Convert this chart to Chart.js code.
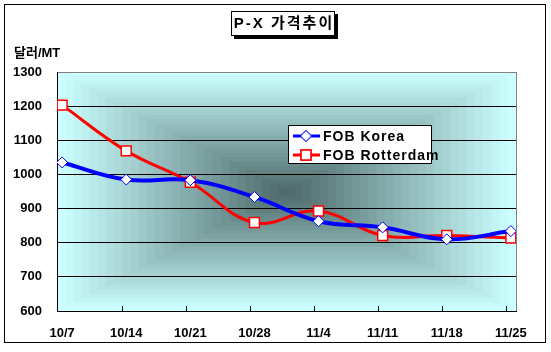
<!DOCTYPE html>
<html>
<head>
<meta charset="utf-8">
<script src="https://cdn.jsdelivr.net/npm/chart.js@4"></script>
<style>
  body { margin: 0; background: #fff; }
  #wrap { width: 551px; height: 352px; }
</style>
</head>
<body>
<div id="wrap"><canvas id="chart" width="551" height="352"></canvas></div>
<script>
const dates = ["10/7", "10/14", "10/21", "10/28", "11/4", "11/11", "11/18", "11/25"];
const fobKorea = [1035, 985, 983, 934, 863, 845, 810, 834];
const fobRotterdam = [1203, 1069, 977, 859, 893, 821, 821, 814];
const yTicks = [600, 700, 800, 900, 1000, 1100, 1200, 1300];

const FONT = "'Liberation Sans', Arial, 'Noto Sans CJK KR', sans-serif";

// background box gradient, title box, frame, legend, inner ticks
const decor = {
  id: "decor",
  beforeDraw(chart) {
    const { ctx, chartArea: a } = chart;
    ctx.save();
    ctx.fillStyle = "#fff";
    ctx.fillRect(0, 0, chart.width, chart.height);
    const edge = [204, 255, 255], mid = [74, 102, 102];
    const n = 28;
    const cx = (a.left + a.right) / 2, cy = (a.top + a.bottom) / 2;
    const hw = (a.right - a.left) / 2, hh = (a.bottom - a.top) / 2;
    for (let k = 0; k < n; k++) {
      const t = k / n;
      const c = edge.map((e, i) => Math.round(e + (mid[i] - e) * t));
      ctx.fillStyle = `rgb(${c[0]},${c[1]},${c[2]})`;
      const w = hw * (1 - t), h = hh * (1 - t);
      ctx.fillRect(cx - w, cy - h, w * 2, h * 2);
    }
    ctx.restore();
  },
  afterDraw(chart) {
    const { ctx, chartArea: a, scales } = chart;
    ctx.save();
    // right border of plot
    ctx.strokeStyle = "#808080";
    ctx.lineWidth = 1;
    ctx.beginPath();
    ctx.moveTo(Math.round(a.right) + 0.5, a.top);
    ctx.lineTo(Math.round(a.right) + 0.5, a.bottom);
    ctx.stroke();
    // inside tick marks on category axis
    ctx.strokeStyle = "#000";
    const step = scales.x.getPixelForValue(1) - scales.x.getPixelForValue(0);
    for (let i = 1; i < dates.length; i++) {
      const px = Math.round(scales.x.getPixelForValue(i) - step * 0.07) + 0.5;
      ctx.beginPath();
      ctx.moveTo(px, a.bottom);
      ctx.lineTo(px, a.bottom - 5);
      ctx.stroke();
    }
    // outer frame
    ctx.strokeStyle = "#000";
    ctx.strokeRect(4.5, 4.5, 541, 338);
    // title box with shadow
    ctx.fillStyle = "#000";
    ctx.fillRect(234, 14, 104, 25);
    ctx.fillStyle = "#fff";
    ctx.fillRect(231, 11, 104, 25);
    ctx.strokeRect(231.5, 11.5, 103, 24);
    ctx.fillStyle = "#000";
    ctx.font = "bold 15px " + FONT;
    ctx.textAlign = "center";
    ctx.textBaseline = "middle";
    ctx.letterSpacing = "2px";
    ctx.fillText("P-X 가격추이", 284, 24);
    ctx.letterSpacing = "0px";
    // unit label
    ctx.font = "bold 13px " + FONT;
    ctx.textAlign = "left";
    ctx.fillText("달러/MT", 14, 53);
    // legend
    const lx = 288, ly = 125, lw = 144, lh = 39;
    ctx.fillStyle = "#fff";
    ctx.fillRect(lx, ly, lw, lh);
    ctx.strokeRect(lx + 0.5, ly + 0.5, lw - 1, lh - 1);
    chart.data.datasets.forEach((ds, i) => {
      const y = ly + 11 + i * 19;
      ctx.strokeStyle = ds.borderColor;
      ctx.lineWidth = 3;
      ctx.beginPath();
      ctx.moveTo(lx + 5, y);
      ctx.lineTo(lx + 32, y);
      ctx.stroke();
      ctx.lineWidth = ds.pointBorderWidth;
      ctx.fillStyle = "#fff";
      Chart.helpers.drawPoint(ctx, { pointStyle: ds.pointStyle, radius: ds.pointRadius, borderWidth: ds.pointBorderWidth }, lx + 18, y);
      ctx.fill();
      ctx.stroke();
      ctx.fillStyle = "#000";
      ctx.font = "bold 14px " + FONT;
      ctx.letterSpacing = "1px";
      ctx.fillText(ds.label, lx + 35, y + 1);
      ctx.letterSpacing = "0px";
    });
    ctx.restore();
  }
};

new Chart(document.getElementById("chart"), {
  type: "line",
  data: {
    datasets: [
      {
        label: "FOB Korea",
        data: fobKorea.map((v, i) => ({ x: i, y: v })),
        borderColor: "#0000ff",
        borderWidth: 4,
        tension: 0.4,
        pointStyle: "rectRot",
        pointRadius: 5.5,
        pointBorderWidth: 1,
        pointBackgroundColor: "#fff",
        pointBorderColor: "#0000ff"
      },
      {
        label: "FOB Rotterdam",
        data: fobRotterdam.map((v, i) => ({ x: i, y: v })),
        borderColor: "#ff0000",
        borderWidth: 3,
        tension: 0.4,
        pointStyle: "rect",
        pointRadius: 7,
        pointBorderWidth: 1.5,
        pointBackgroundColor: "#fff",
        pointBorderColor: "#ff0000"
      }
    ]
  },
  options: {
    responsive: false,
    animation: false,
    layout: { padding: { top: 72, right: 35, left: 0, bottom: 0 } },
    plugins: { legend: { display: false }, tooltip: { enabled: false } },
    scales: {
      x: {
        type: "linear",
        min: -0.08,
        max: 7.08,
        afterBuildTicks: (s) => { s.ticks = dates.map((d, i) => ({ value: i })); },
        afterFit: (s) => { s.height = 41; },
        ticks: {
          callback: (v) => dates[v],
          color: "#000",
          font: { family: FONT, size: 13, weight: "bold" },
          padding: 15,
          maxRotation: 0,
          autoSkip: false
        },
        grid: { display: false, drawTicks: false },
        border: { color: "#000", width: 1 }
      },
      y: {
        min: 600,
        max: 1300,
        afterBuildTicks: (s) => { s.ticks = yTicks.map((v) => ({ value: v })); },
        afterFit: (s) => { s.width = 57; },
        ticks: {
          callback: (v) => String(v),
          color: "#000",
          font: { family: FONT, size: 13, weight: "bold" },
          padding: 15
        },
        grid: {
          color: (c) => (c.tick && c.tick.value === 1300 ? "#808080" : "#000"),
          drawTicks: false,
          tickLength: 0
        },
        border: { color: "#000", width: 1 }
      }
    }
  },
  plugins: [decor]
});
</script>
</body>
</html>
